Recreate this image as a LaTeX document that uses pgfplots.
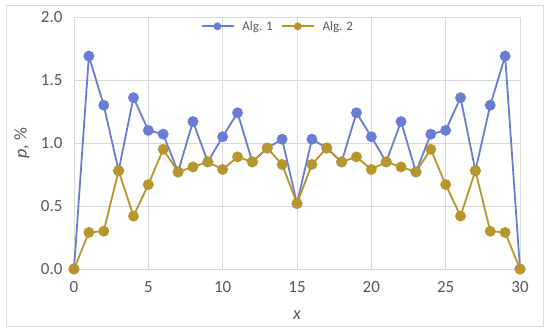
\documentclass[border=0pt]{standalone}
\usepackage{pgfplots}
\pgfplotsset{compat=1.18}
\usepackage{fontspec}
\setmainfont{Carlito}
\definecolor{algA}{HTML}{6B7DD3}
\definecolor{algB}{HTML}{B8962E}
\definecolor{tickgray}{HTML}{595959}
\definecolor{gridgray}{HTML}{D9D9D9}
\begin{document}
\begin{tikzpicture}[x=1pt,y=1pt]
\path (-74,-64) rectangle (476,269);
\draw[gridgray, line width=0.8pt] (-68,-57) rectangle (469,264);
\begin{axis}[
  at={(0,0)}, anchor=south west,
  scale only axis, width=446pt, height=252pt,
  xmin=0, xmax=30, ymin=0, ymax=2,
  xtick={0,5,...,30}, ytick={0,0.5,...,2},
  grid=major,
  major grid style={gridgray, line width=0.8pt},
  axis line style={gridgray, line width=0.8pt},
  tick style={draw=none},
  /pgf/number format/assume math mode=true,
  yticklabel style={/pgf/number format/fixed, /pgf/number format/fixed zerofill, /pgf/number format/precision=1, font=\fontsize{17}{19}\selectfont, text=tickgray, xshift=-8pt},
  xticklabel style={font=\fontsize{17}{19}\selectfont, text=tickgray, yshift=-9pt},
  ylabel={\textit{p}, \%},
  xlabel={\textit{x}},
  ylabel style={at={(axis description cs:-0.117,0.5)}, anchor=center, font=\fontsize{18}{20}\selectfont, text=tickgray},
  xlabel style={at={(axis description cs:0.5,-0.1825)}, anchor=center, font=\fontsize{18}{20}\selectfont, text=tickgray},
  legend style={at={(0.457,0.963)}, anchor=center, draw=none, fill=none, font=\fontsize{13}{15}\selectfont, text=tickgray, column sep=6pt, inner sep=0pt},
  legend columns=2,
  legend image code/.code={\draw[#1, mark size=3pt, mark repeat=2, mark phase=2] plot coordinates {(0pt,0pt) (16pt,0pt) (32pt,0pt)};},
  clip=false,
]
\addplot[algA, line width=1.8pt, mark=*, mark size=4.5pt] coordinates {
(0,0) (1,1.69) (2,1.30) (3,0.78) (4,1.36) (5,1.10) (6,1.07) (7,0.77) (8,1.17) (9,0.85) (10,1.05)
(11,1.24) (12,0.85) (13,0.96) (14,1.03) (15,0.52) (16,1.03) (17,0.96) (18,0.85) (19,1.24) (20,1.05)
(21,0.85) (22,1.17) (23,0.77) (24,1.07) (25,1.10) (26,1.36) (27,0.78) (28,1.30) (29,1.69) (30,0)
};
\addlegendentry{Alg. 1}
\addplot[algB, line width=1.8pt, mark=*, mark size=4.5pt] coordinates {
(0,0) (1,0.29) (2,0.30) (3,0.78) (4,0.42) (5,0.67) (6,0.95) (7,0.77) (8,0.81) (9,0.85) (10,0.79)
(11,0.89) (12,0.85) (13,0.96) (14,0.83) (15,0.52) (16,0.83) (17,0.96) (18,0.85) (19,0.89) (20,0.79)
(21,0.85) (22,0.81) (23,0.77) (24,0.95) (25,0.67) (26,0.42) (27,0.78) (28,0.30) (29,0.29) (30,0)
};
\addlegendentry{Alg. 2}
\end{axis}
\end{tikzpicture}
\end{document}
